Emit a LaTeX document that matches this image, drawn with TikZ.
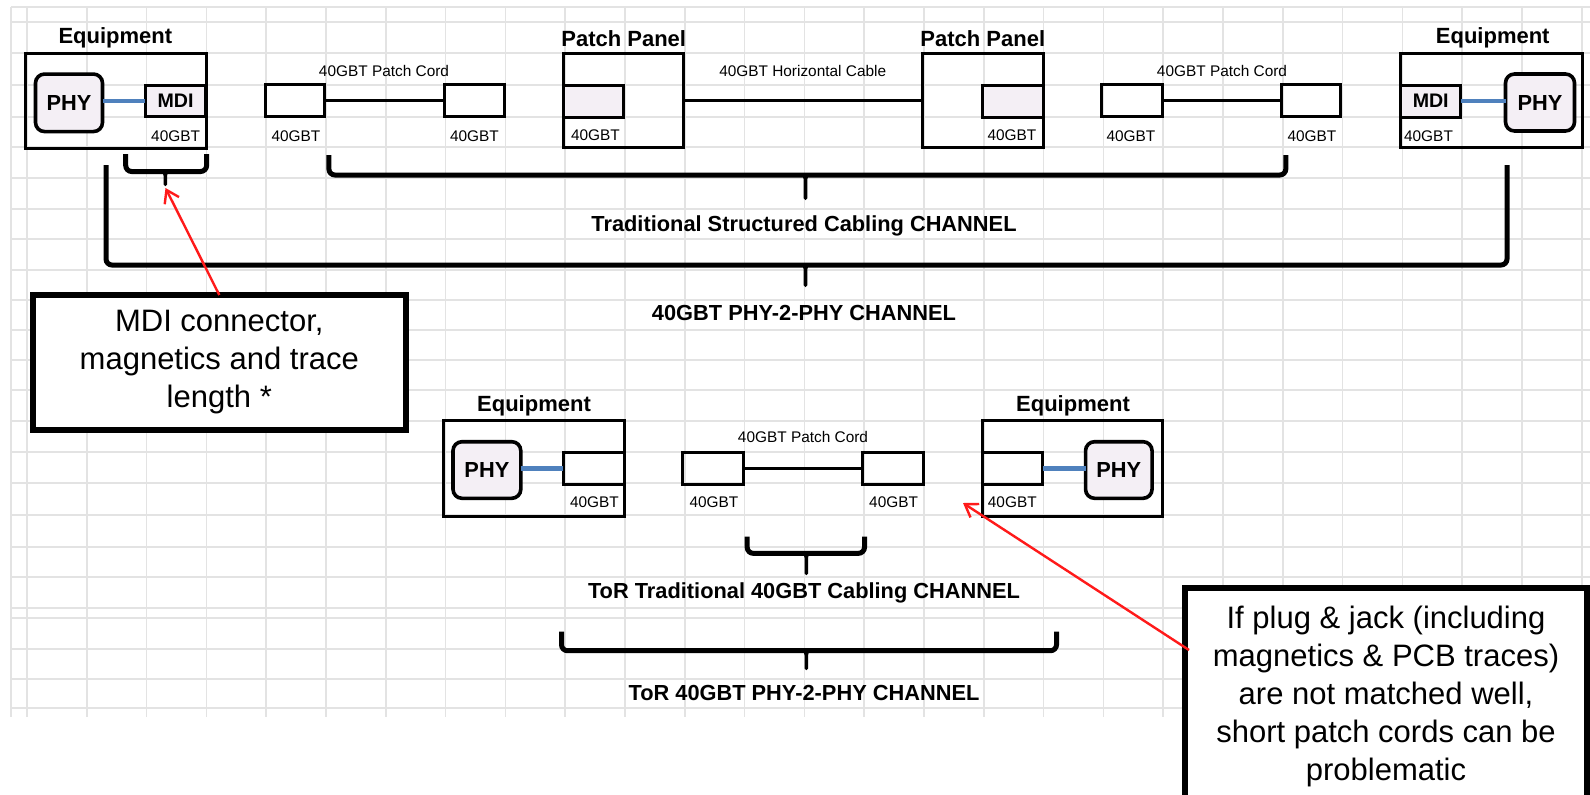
\documentclass[tikz,border=0pt]{standalone}
\usepackage{fontspec}
\setmainfont{Liberation Sans}
\usetikzlibrary{arrows.meta}
\definecolor{lav}{HTML}{F4EFF5}
\definecolor{gridc}{HTML}{E3E3E3}
\definecolor{phyblue}{HTML}{4F81BD}
\definecolor{redarrow}{HTML}{FF1A1A}
\tikzset{
  gridline/.style={draw=gridc,line width=0.75pt},
  eqbox/.style={draw,line width=1.5pt,inner sep=0pt,outer sep=0pt},
  plugbox/.style={draw,line width=1.5pt,inner sep=0pt,outer sep=0pt},
  jackbox/.style={draw,line width=1.5pt,inner sep=0pt,outer sep=0pt,fill=lav},
  mdibox/.style={draw,line width=1.5pt,inner sep=0pt,outer sep=0pt,fill=lav,font=\fontsize{9.8}{11}\selectfont\bfseries},
  phybox/.style={draw,line width=1.8pt,rounded corners=4.5pt,inner sep=0pt,outer sep=0pt,fill=lav,font=\fontsize{10.9}{12}\selectfont\bfseries},
  biglabel/.style={font=\fontsize{11}{13}\selectfont\bfseries,inner sep=0pt},
  chlabel/.style={font=\fontsize{10.9}{13}\selectfont\bfseries,inner sep=0pt},
  small/.style={font=\fontsize{7.7}{9}\selectfont,inner sep=0pt},
  cable/.style={line width=1.5pt},
  phylink/.style={draw=phyblue,line width=2.4pt},
  bracket/.style={line width=2.5pt,rounded corners=3pt},
  stem/.style={fill=black,rounded corners=0.8pt},
  callout/.style={draw,line width=3pt,fill=white,align=center,inner sep=0pt,outer sep=0pt,
    font=\fontsize{15.5}{19}\selectfont},
  redarr/.style={draw=redarrow,line width=1.2pt,-{Straight Barb[length=6pt,width=8pt]}}
}
\newcommand\bracestem[3]{\fill[stem] (#1-4,#2) -- (#1+4,#2) -- (#1+1.8,#2+4) -- (#1+1.8,#3) -- (#1-1.8,#3) -- (#1-1.8,#2+4) -- cycle;}
\begin{document}
\begin{tikzpicture}[x=0.5pt,y=-0.5pt]
\clip (0,0) rectangle (1590,794);
\fill[white] (0,0) rectangle (1590,794);
% spreadsheet grid
\draw[gridline] (11,7) -- (11,717);
\foreach \k in {0,...,26}{\pgfmathsetmacro\gx{27+59.8*\k}\draw[gridline] (\gx,7) -- (\gx,717);}
\foreach \gy in {7,22,53,85,117,147,178,209,239,270,300,330,360,390,421,452,483,515,547,577,608,618,649,679,708}
  {\draw[gridline] (11,\gy) -- (1590,\gy);}

% ---------- top row ----------
\node[biglabel] (lblE1) at (115.4,38.3) {Equipment};
\node[eqbox,minimum width=90.5pt,minimum height=47.25pt] (E1) at (115.5,100.8) {};
\node[phybox,minimum width=33.5pt,minimum height=28.75pt] (PHY1) at (69,102.8) {PHY};
\node[mdibox,minimum width=30.35pt,minimum height=15.85pt] (MDI1) at (175.6,100.9) {MDI};
\draw[phylink] (PHY1.east |- MDI1.west) -- (MDI1.west);
\node[small] (g1) at (175.6,136) {40GBT};

\node[small] (lblPC1) at (384,71) {40GBT Patch Cord};
\node[plugbox,minimum width=29.85pt,minimum height=16.2pt] (P1a) at (294.9,100.5) {};
\node[plugbox,minimum width=30.15pt,minimum height=16.2pt] (P1b) at (474.4,100.5) {};
\draw[cable] (P1a.east) -- (P1b.west);
\node[small] (g2) at (296,136) {40GBT};
\node[small] (g3) at (474.5,136) {40GBT};

\node[biglabel] (lblPP1) at (623.7,38.3) {Patch Panel};
\node[eqbox,minimum width=59.9pt,minimum height=47.2pt] (PP1) at (623.3,100.5) {};
\node[jackbox,minimum width=30.15pt,minimum height=16pt] (J1) at (593.5,101) {};
\node[small] (g4) at (595.4,135) {40GBT};

\node[small] (lblHC) at (802.7,71) {40GBT Horizontal Cable};

\node[biglabel] (lblPP2) at (982.8,38.3) {Patch Panel};
\node[eqbox,minimum width=60.2pt,minimum height=47.2pt] (PP2) at (982.8,100.5) {};
\node[jackbox,minimum width=30.5pt,minimum height=16pt] (J2) at (1012.5,101) {};
\node[small] (g5) at (1012,135) {40GBT};
\draw[cable] (PP1.east) -- (PP2.west);

\node[small] (lblPC2) at (1222,71) {40GBT Patch Cord};
\node[plugbox,minimum width=30.45pt,minimum height=16.2pt] (P2a) at (1131.7,100.5) {};
\node[plugbox,minimum width=29.6pt,minimum height=16.2pt] (P2b) at (1311,100.5) {};
\draw[cable] (P2a.east) -- (P2b.west);
\node[small] (g6) at (1131,136) {40GBT};
\node[small] (g7) at (1312,136) {40GBT};

\node[biglabel] (lblE2) at (1492.7,38.3) {Equipment};
\node[eqbox,minimum width=90.75pt,minimum height=47.2pt] (E2) at (1491.6,100.5) {};
\node[mdibox,minimum width=29.9pt,minimum height=16pt] (MDI2) at (1430.7,101) {MDI};
\node[phybox,minimum width=34.5pt,minimum height=28.5pt] (PHY2) at (1540,102.5) {PHY};
\draw[phylink] (MDI2.east) -- (PHY2.west |- MDI2.east);
\node[small] (g8) at (1428.5,136) {40GBT};

% braces (top)
\draw[bracket] (125.7,154) -- (125.7,171.5) -- (206.6,171.5) -- (206.6,154);
\bracestem{165.3}{170}{186}
\draw[bracket] (328.9,155) -- (328.9,175) -- (1285.8,175) -- (1285.8,155);
\bracestem{805.5}{174}{200}
\node[chlabel] (ch1) at (804,226) {Traditional Structured Cabling CHANNEL};
\draw[bracket] (106,165) -- (106,265) -- (1507,265) -- (1507,165);
\bracestem{805.5}{264}{287}
\node[chlabel] (ch2) at (804,313) {40GBT PHY-2-PHY CHANNEL};

% callout 1
\node[callout,minimum width=186.3pt,minimum height=67.5pt] (call1) at (219.3,362.5) {MDI connector,\\magnetics and trace\\length *};
\coordinate (t1) at (165.5,188);
\draw[redarr] (call1.north) -- (t1);

% ---------- lower row ----------
\node[biglabel] (lblE3) at (534,406) {Equipment};
\node[eqbox,minimum width=90.65pt,minimum height=48pt] (E3) at (534,468) {};
\node[phybox,minimum width=33.9pt,minimum height=28.3pt] (PHY3) at (486.9,470) {PHY};
\node[plugbox,minimum width=30.8pt,minimum height=15.85pt] (J3) at (593.8,468.2) {};
\draw[phylink] (PHY3.east |- J3.west) -- (J3.west);
\node[small] (g9) at (594.5,501.7) {40GBT};

\node[small] (lblPC3) at (803,437.3) {40GBT Patch Cord};
\node[plugbox,minimum width=30.3pt,minimum height=15.85pt] (P3a) at (713,468.2) {};
\node[plugbox,minimum width=30.3pt,minimum height=15.85pt] (P3b) at (892.9,468.2) {};
\draw[cable] (P3a.east) -- (P3b.west);
\node[small] (g10) at (714,501.7) {40GBT};
\node[small] (g11) at (893.6,501.7) {40GBT};

\node[biglabel] (lblE4) at (1073,406) {Equipment};
\node[eqbox,minimum width=90.15pt,minimum height=48pt] (E4) at (1072.5,468) {};
\node[plugbox,minimum width=30.3pt,minimum height=15.85pt] (J4) at (1012.6,468.2) {};
\node[phybox,minimum width=33.25pt,minimum height=28.3pt] (PHY4) at (1118.8,470) {PHY};
\draw[phylink] (J4.east) -- (PHY4.west |- J4.east);
\node[small] (g12) at (1012.3,501.7) {40GBT};

% braces (lower)
\draw[bracket] (747.2,536.7) -- (747.2,553.3) -- (864.5,553.3) -- (864.5,536.7);
\bracestem{806.3}{552}{575}
\node[chlabel] (ch3) at (804,593.3) {ToR Traditional 40GBT Cabling CHANNEL};
\draw[bracket] (561.5,631.7) -- (561.5,650.7) -- (1056.5,650.7) -- (1056.5,631.7);
\bracestem{806.3}{649.5}{670}
\node[chlabel] (ch4) at (804,693.3) {ToR 40GBT PHY-2-PHY CHANNEL};

% callout 2
\node[callout,minimum width=201pt,minimum height=108.5pt] (call2) at (1386,696.5) {If plug \& jack (including\\magnetics \& PCB traces)\\are not matched well,\\short patch cords can be\\problematic};
\coordinate (s2) at (1189,650);
\coordinate (t2) at (963,503);
\draw[redarr] (s2) -- (t2);
\end{tikzpicture}
\end{document}
